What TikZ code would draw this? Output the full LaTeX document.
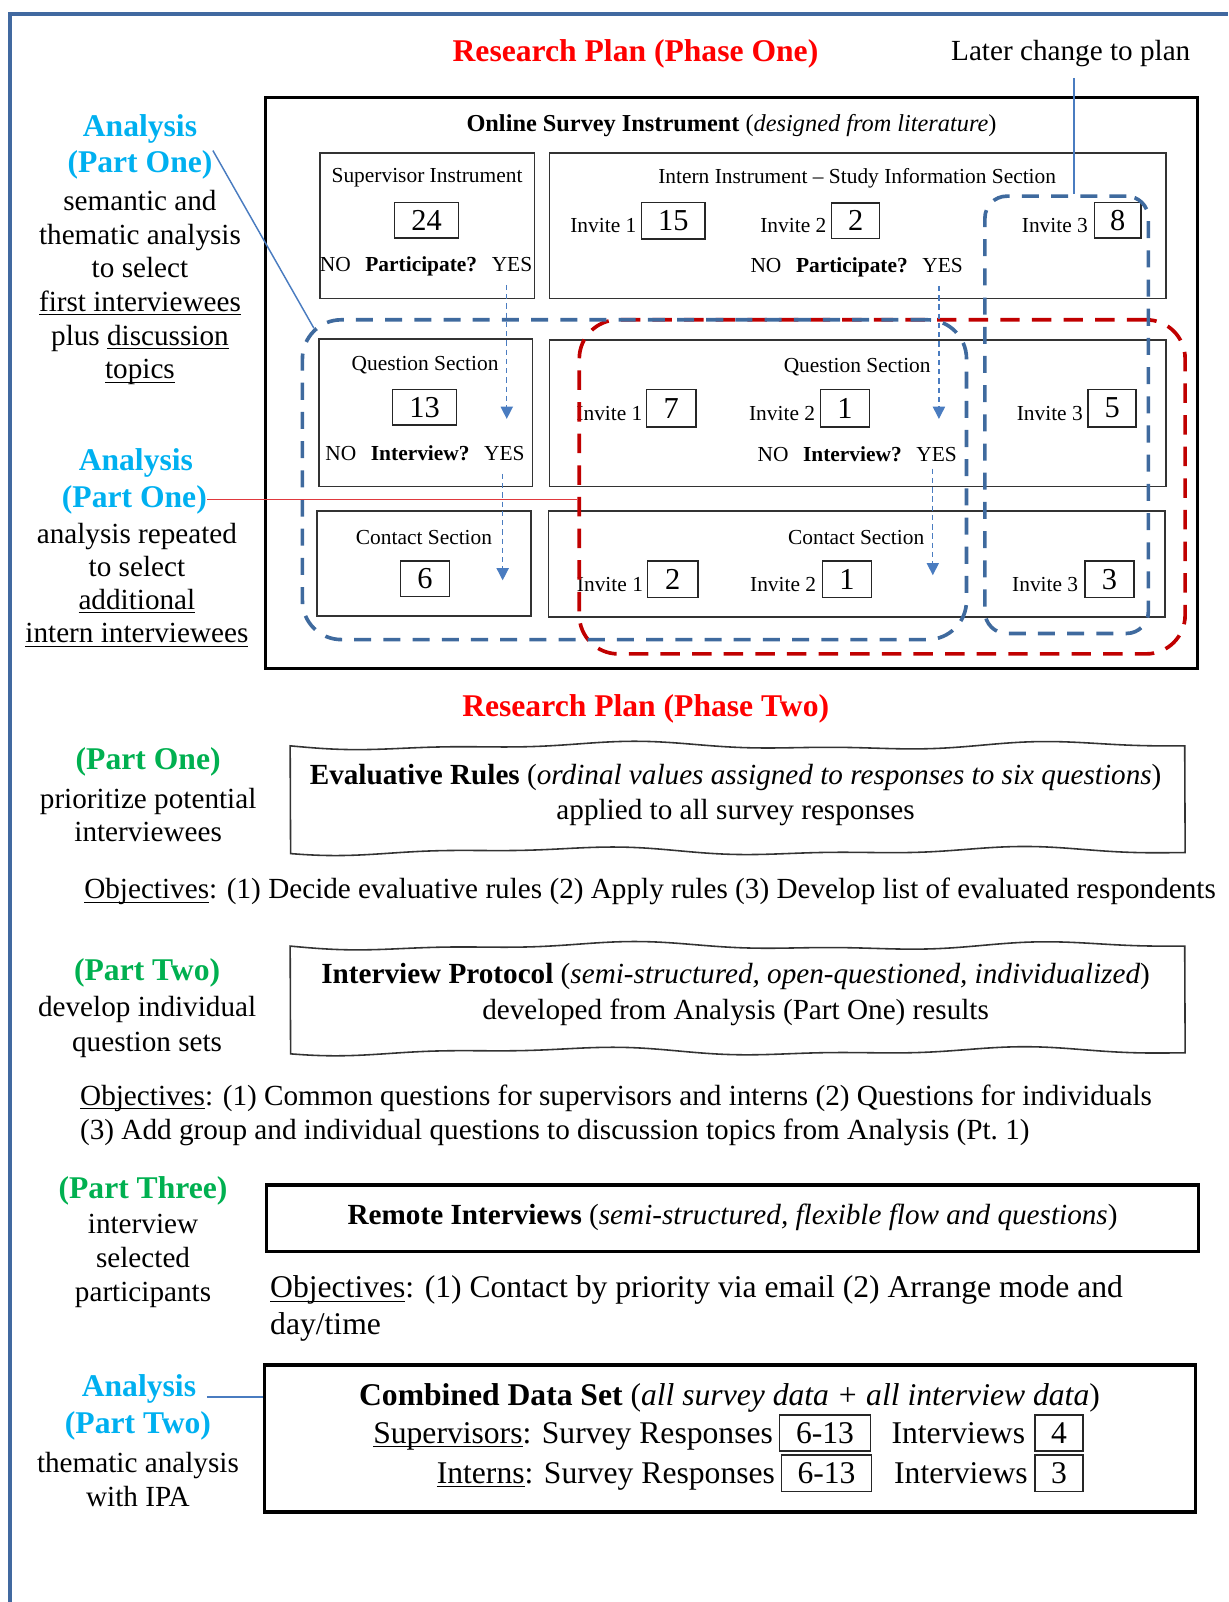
\documentclass[tikz,border=0pt]{standalone}
\usepackage{fontspec}
\setmainfont{Liberation Serif}
\usetikzlibrary{arrows.meta,calc}

\definecolor{frameblue}{HTML}{4169A0}
\definecolor{grpblue}{HTML}{3F6A9E}
\definecolor{grpred}{HTML}{C00000}
\definecolor{titlered}{HTML}{FF0000}
\definecolor{linkred}{HTML}{E0393E}
\definecolor{linkblue}{HTML}{4A7CC0}
\definecolor{anacyan}{HTML}{00B0F0}
\definecolor{partgreen}{HTML}{00B050}

\newcommand{\fsz}[2]{\fontsize{#1pt}{#2pt}\selectfont}
\newcommand{\qgap}{\hspace{6pt}}
% underline drawn close to the baseline, crossing descenders
\newcommand{\ulbase}[1]{\underline{\smash{#1}}}

\begin{document}
\begin{tikzpicture}[x=0.42pt,y=-0.42pt,
  every node/.style={inner sep=0pt},
  wh/.style 2 args={minimum width=#1*0.42pt,minimum height=#2*0.42pt},
  tx/.style={yshift=-1.2pt},
  secbox/.style={draw=black!80,line width=0.65pt},
  numbox/.style={draw=black!85,line width=0.6pt,font=\fsz{12.5}{14}},
  small/.style={tx,font=\fsz{8.8}{10}},
  body/.style={tx,font=\fsz{12}{13.86},align=center},
  cyanhead/.style={tx,font=\fsz{13}{15}\bfseries,text=anacyan},
  greenhead/.style={tx,font=\fsz{13}{15}\bfseries,text=partgreen},
  plantitle/.style={tx,font=\fsz{13}{15}\bfseries,text=titlered},
  bluegroup/.style={draw=grpblue,line width=1.5pt,dash pattern=on 7pt off 5pt},
  redgroup/.style={draw=grpred,line width=1.5pt,dash pattern=on 8pt off 5pt},
  flowarrow/.style={draw=linkblue,line width=0.55pt,dash pattern=on 2.2pt off 1.6pt,
    -{Triangle[length=5pt,width=5pt]}},
  wavy/.style={draw=black!80,line width=0.65pt},
  heavybox/.style={draw=black,line width=1.4pt}
]
\useasboundingbox (0,0) rectangle (1202,1568);

% page frame (top and left rules)
\draw[frameblue,line width=1.7pt] (10,1568) -- (10,14) -- (1202,14);

% ---------------- Phase One ----------------
\node[plantitle] (title1) at (622,50) {Research Plan (Phase One)};
\node[tx,font=\fsz{12}{14}] (later) at (1048,50) {Later change to plan};

\node[draw=black,line width=1.2pt,wh={912}{559}] (survey) at (716,374.5) {};
\node[tx,font=\fsz{10}{12}] (surveyT) at (716,120)
  {\textbf{Online Survey Instrument} (\textit{designed from literature})};

% supervisor instrument
\node[secbox,wh={210}{142}] (sup) at (418,221) {};
\node[small] (supT) at (418,171) {Supervisor Instrument};
\node[numbox,wh={63}{35}] (n24) at (417.5,215.5) {24};
\node[small] (supQ) at (417,258) {NO\qgap\textbf{Participate?}\qgap YES};

% intern instrument
\node[secbox,wh={603}{142}] (int) at (839.5,221) {};
\node[small] (intT) at (839,172) {Intern Instrument -- Study Information Section};
\node[small] (intI1) at (590.5,218) {Invite 1};
\node[numbox,wh={62}{36}] (n15) at (659,216) {15};
\node[small] (intI2) at (776.5,218) {Invite 2};
\node[numbox,wh={47}{35}] (n2a) at (837.5,216) {2};
\node[small] (intI3) at (1032.5,218) {Invite 3};
\node[numbox,wh={46}{35}] (n8) at (1094,215.5) {8};
\node[small] (intQ) at (838.5,259) {NO\qgap\textbf{Participate?}\qgap YES};

% question sections
\node[secbox,wh={209}{144}] (qsup) at (416.5,404) {};
\node[small] (qsupT) at (416,355) {Question Section};
\node[numbox,wh={63}{35}] (n13) at (415.5,398.5) {13};
\node[small] (qsupQ) at (416,441) {NO\qgap\textbf{Interview?}\qgap YES};

\node[secbox,wh={603}{143}] (qint) at (839.5,404.5) {};
\node[small] (qintT) at (839,356) {Question Section};
\node[small] (qintI1) at (596.5,402) {Invite 1};
\node[numbox,wh={48}{37}] (n7) at (657,399.5) {7};
\node[small] (qintI2) at (765.5,402) {Invite 2};
\node[numbox,wh={48}{37}] (n1a) at (827,399.5) {1};
\node[small] (qintI3) at (1027.5,402) {Invite 3};
\node[numbox,wh={47}{37}] (n5) at (1088.5,399.5) {5};
\node[small] (qintQ) at (839,442) {NO\qgap\textbf{Interview?}\qgap YES};

% contact sections
\node[secbox,wh={210}{103}] (csup) at (415,551.5) {};
\node[small] (csupT) at (415,523) {Contact Section};
\node[numbox,wh={48}{35}] (n6) at (416,566.5) {6};

\node[secbox,wh={603}{104}] (cint) at (838.5,552) {};
\node[small] (cintT) at (838,523) {Contact Section};
\node[small] (cintI1) at (597,569) {Invite 1};
\node[numbox,wh={49}{36}] (n2b) at (658.5,567) {2};
\node[small] (cintI2) at (766.5,569) {Invite 2};
\node[numbox,wh={48}{36}] (n1b) at (829,567) {1};
\node[small] (cintI3) at (1023,569) {Invite 3};
\node[numbox,wh={48}{36}] (n3) at (1086,567) {3};

% dashed groupings
\node[redgroup,rounded corners=16pt,wh={593}{327}] (grpR) at (863.5,476.5) {};
\node[bluegroup,rounded corners=16pt,wh={650}{313}] (grpA) at (621,469.5) {};
\node[bluegroup,rounded corners=9pt,wh={160}{428}] (grpB) at (1044,406) {};

% YES flow arrows
\coordinate (tipS1) at (496,410);
\coordinate (tipS2) at (492,568);
\coordinate (tipI1) at (919,410);
\coordinate (tipI2) at (913,563);
\draw[flowarrow] ($(tipS1 |- supQ.south)+(0,8)$) -- (tipS1);
\draw[flowarrow] ($(tipS2 |- qsupQ.south)+(0,12)$) -- (tipS2);
\draw[flowarrow] ($(tipI1 |- intQ.south)+(0,8)$) -- (tipI1);
\draw[flowarrow] ($(tipI2 |- qintQ.south)+(0,6)$) -- (tipI2);

% left annotations, phase one
\node[cyanhead] (an1a) at (137,123) {Analysis};
\node[cyanhead] (an1b) at (137,159) {(Part One)};
\node[body] (an1c) at (137,278) {semantic and\\thematic analysis\\to select\\
  \ulbase{first interviewees}\\plus \ulbase{discussion}\\\ulbase{topics}};

\node[cyanhead] (an2a) at (133,450) {Analysis};
\node[cyanhead] (an2b) at (131.5,486) {(Part One)};
\node[body,font=\fsz{12}{13.6}] (an2c) at (134,570) {analysis repeated\\to select\\
  \ulbase{additional}\\\ulbase{intern interviewees}};

% annotation connectors
\draw[linkblue,line width=0.6pt] (an1b.north east) -- ($(grpA.north west)+(13,10)$);
\draw[linkblue,line width=0.6pt] (later.south -| 1051,0) ++(0,10) coordinate (laterFoot)
  (laterFoot) -- (laterFoot |- grpB.north);
\draw[linkred,line width=0.7pt] (an2b.east) -- (an2b.east -| grpR.west);

% ---------------- Phase Two ----------------
\node[plantitle] (title2) at (632,691) {Research Plan (Phase Two)};

\node[greenhead] (p1a) at (145,743) {(Part One)};
\node[body,font=\fsz{12}{13.5}] (p1b) at (145,795) {prioritize potential\\interviewees};

\draw[wavy] plot[domain=0:1,samples=90,smooth]
    ({284+876*\x},{730+3*sin(720*\x)+1.5*sin(1620*\x)})
  -- plot[domain=1:0,samples=90,smooth]
    ({284+876*\x},{833+3*sin(720*\x+40)+1.5*sin(1620*\x+20)}) -- cycle;
\node[tx,font=\fsz{12}{14.3},align=center] (evalT) at (720,775)
  {\textbf{Evaluative Rules} (\textit{ordinal values assigned to responses to six questions})\\
   applied to all survey responses};

\node[tx,font=\fsz{12}{14},anchor=west] (obj1) at (82,870)
  {\ulbase{Objectives}: (1) Decide evaluative rules (2) Apply rules (3) Develop list of evaluated respondents};

\node[greenhead] (p2a) at (144,949) {(Part Two)};
\node[body,font=\fsz{12}{14.3}] (p2b) at (144,1002) {develop individual\\question sets};

\draw[wavy] plot[domain=0:1,samples=90,smooth]
    ({284+876*\x},{926+3*sin(720*\x)+1.5*sin(1620*\x)})
  -- plot[domain=1:0,samples=90,smooth]
    ({284+876*\x},{1029+3*sin(720*\x+40)+1.5*sin(1620*\x+20)}) -- cycle;
\node[tx,font=\fsz{12}{14.7},align=center] (protT) at (720,970.5)
  {\textbf{Interview Protocol} (\textit{semi-structured, open-questioned, individualized})\\
   developed from Analysis (Part One) results};

\node[tx,font=\fsz{12}{13.86},align=left,anchor=west] (obj2) at (78,1088.5)
  {\ulbase{Objectives}: (1) Common questions for supervisors and interns (2) Questions for individuals\\
   (3) Add group and individual questions to discussion topics from Analysis (Pt.~1)};

\node[greenhead] (p3a) at (140,1163) {(Part Three)};
\node[body,font=\fsz{12}{14}] (p3b) at (140,1231.5) {interview\\selected\\participants};

\node[heavybox,wh={912}{65}] (remote) at (717,1192.5) {};
\node[tx,font=\fsz{12}{14}] (remoteT) at (717,1189)
  {\textbf{Remote Interviews} (\textit{semi-structured, flexible flow and questions})};

\node[tx,font=\fsz{13}{15.1},align=left,anchor=west] (obj3) at (264,1278)
  {\ulbase{Objectives}: (1) Contact by priority via email (2) Arrange mode and\\day/time};

\node[cyanhead] (an3a) at (136,1357) {Analysis};
\node[cyanhead] (an3b) at (135,1393) {(Part Two)};
\node[body,font=\fsz{12}{13.86}] (an3c) at (135,1445.5) {thematic analysis\\with IPA};

\node[heavybox,wh={911}{144}] (combined) at (714.5,1408) {};
\node[tx,font=\fsz{13}{15}] (combT) at (714,1365)
  {\textbf{Combined Data Set} (\textit{all survey data + all interview data})};
\node[tx,font=\fsz{13}{15},anchor=east] (supRow) at (757,1403) {\ulbase{Supervisors}: Survey Responses};
\node[numbox,font=\fsz{13}{15},wh={89}{35}] (supResp) at (807.5,1402.5) {6-13};
\node[font=\fsz{13}{15},anchor=base] (supIntL) at (supRow.base -| 938,0) {Interviews};
\node[numbox,font=\fsz{13}{15},wh={47}{35}] (supInt) at (1036.5,1402.5) {4};
\node[tx,font=\fsz{13}{15},anchor=east] (intRow) at (759,1442) {\ulbase{Interns}: Survey Responses};
\node[numbox,font=\fsz{13}{15},wh={88}{36}] (intResp) at (809,1442) {6-13};
\node[font=\fsz{13}{15},anchor=base] (intIntL) at (intRow.base -| 940.5,0) {Interviews};
\node[numbox,font=\fsz{13}{15},wh={47}{36}] (intInt) at (1036.5,1442) {3};

\draw[linkblue,line width=0.7pt] (an3a.base east) ++(10,0) coordinate (an3foot)
  (an3foot) -- (an3foot -| combined.west);
\end{tikzpicture}
\end{document}
